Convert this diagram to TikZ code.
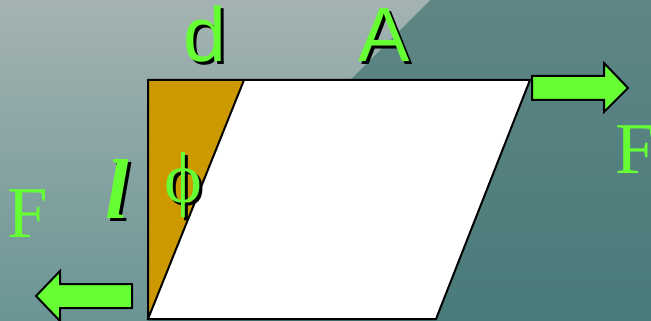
\documentclass[tikz,border=0pt]{standalone}
\usepackage{fontspec}
\setmainfont{Liberation Serif}
\newfontfamily\arialfont{Liberation Sans}
\definecolor{labelgreen}{HTML}{66FF33}
\definecolor{wedgebrown}{HTML}{CC9900}
\tikzset{
    greentext/.style={text=labelgreen, inner sep=0pt},
    shadowtext/.style={text=black, inner sep=0pt},
    forcearrow/.style={fill=labelgreen, draw=black, line width=2pt, line join=miter}
}
% label with a black shadow behind it
\newcommand{\shadowlabel}[4]{%
    \node[shadowtext, anchor=base] (#1shadow) at ($(#2)+(3,3)$) {#3#4};
    \node[greentext, anchor=base] (#1) at (#2) {#3#4};
}
\usetikzlibrary{calc}
\begin{document}
\begin{tikzpicture}[x=1pt, y=-1pt]
    \useasboundingbox (0,0) rectangle (651,321);

    % background
    \shade[top color={rgb,255:red,95;green,134;blue,133}, bottom color={rgb,255:red,72;green,123;blue,122}] (0,0) rectangle (651,321);
    \shade[top color={rgb,255:red,164;green,179;blue,178}, bottom color={rgb,255:red,106;green,149;blue,148}] (0,0) -- (430,0) -- (350,80) -- (148,80) -- (148,321) -- (0,321) -- cycle;

    \coordinate (topleft) at (148,80);
    \coordinate (topmid) at (244,80);
    \coordinate (topright) at (530,80);
    \coordinate (bottomleft) at (148,319);
    \coordinate (bottomright) at (436,319);

    \fill[wedgebrown] (topleft) -- (topmid) -- (bottomleft) -- cycle;
    \fill[white] (topmid) -- (topright) -- (bottomright) -- (bottomleft) -- cycle;
    \draw[line width=2pt] (bottomleft) -- (topleft) -- (topright) -- (bottomright) -- (bottomleft) -- (topmid);

    % forces
    \draw[forcearrow] (532,76) -- (604,76) -- (604,63) -- (628,88) -- (604,112) -- (604,100) -- (532,100) -- cycle;
    \draw[forcearrow] (132,284) -- (60,284) -- (60,271) -- (36,296) -- (60,321) -- (60,308) -- (132,308) -- cycle;

    \node[greentext, anchor=base west] (rightforce) at (615,173) {\fontsize{73}{73}\selectfont F};
    \node[greentext, anchor=base west] (leftforce) at (7,237) {\fontsize{73}{73}\selectfont F};

    \coordinate (dpos) at (205,62);
    \coordinate (apos) at (384,62);
    \coordinate (lpos) at (117,218);
    \coordinate (phipos) at (183,202);
    \shadowlabel{dlabel}{dpos}{\arialfont\fontsize{77}{77}\selectfont}{d}
    \shadowlabel{alabel}{apos}{\arialfont\fontsize{77}{77}\selectfont}{A}
    \shadowlabel{llabel}{lpos}{\fontsize{85}{85}\selectfont\bfseries\itshape}{l}
    \shadowlabel{philabel}{phipos}{\fontsize{72}{72}\selectfont}{ϕ}
\end{tikzpicture}
\end{document}
